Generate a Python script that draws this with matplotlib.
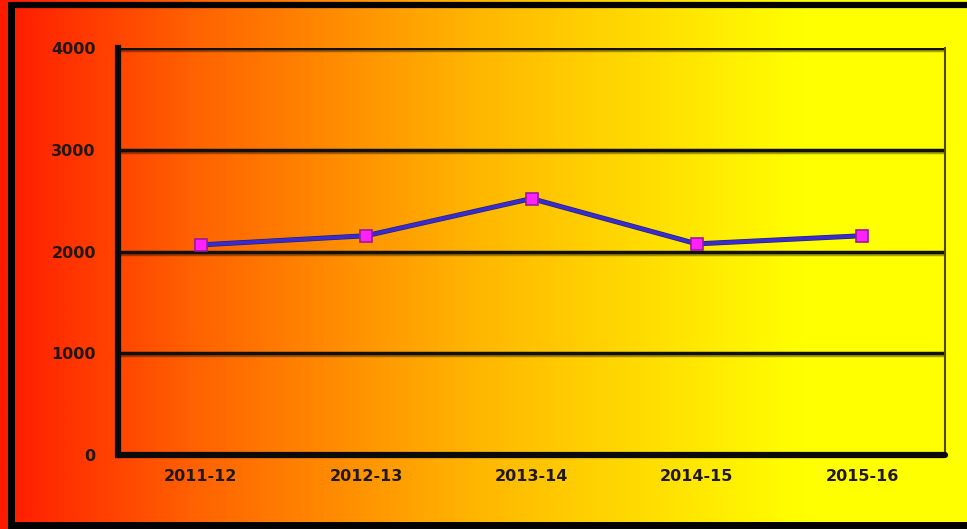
import matplotlib
matplotlib.use("Agg")
import matplotlib.pyplot as plt
import numpy as np
from matplotlib.colors import LinearSegmentedColormap
import matplotlib.patheffects as pe

categories = ["2011-12", "2012-13", "2013-14", "2014-15", "2015-16"]
values = [2065, 2155, 2520, 2075, 2155]
yticks = [0, 1000, 2000, 3000, 4000]

W, H = 967, 529
fig = plt.figure(figsize=(W / 100, H / 100), dpi=100)

# background gradient
bg = fig.add_axes([0, 0, 1, 1], zorder=-2)
cmap = LinearSegmentedColormap.from_list(
    "ry", [(0.0, "#ff1a00"), (0.2, "#ff6200"), (0.5, "#ffb800"),
           (0.72, "#ffe800"), (0.83, "#ffff00"), (1.0, "#ffff00")])
grad = np.linspace(0, 1, 512).reshape(1, -1)
bg.imshow(grad, aspect="auto", cmap=cmap, extent=[0, 1, 0, 1])
bg.set_xlim(0, 1); bg.set_ylim(0, 1)
bg.axis("off")
# black frame: top, left, bottom (no right edge)
xl, yt, yb = 11 / W, 1 - 5 / H, 4 / H
bg.plot([xl, 1.01], [yt, yt], color="black", lw=4.5, transform=bg.transAxes, clip_on=False, solid_capstyle="butt")
bg.plot([xl, 1.01], [yb, yb], color="black", lw=5, transform=bg.transAxes, clip_on=False, solid_capstyle="butt")
bg.plot([xl, xl], [yb, yt], color="black", lw=5, transform=bg.transAxes, clip_on=False, solid_capstyle="projecting")

left, right, top, bottom = 118, 945, 48, 455
ax = fig.add_axes([left / W, 1 - bottom / H, (right - left) / W, (bottom - top) / H])
ax.set_facecolor("none")
x = np.arange(len(categories))
ax.set_xlim(-0.5, len(categories) - 0.5)
ax.set_ylim(0, 4000)
ax.set_yticks(yticks)
ax.set_yticklabels([str(v) for v in yticks])
ax.set_xticks(x)
ax.set_xticklabels(categories)
for t in ax.get_xticklabels() + ax.get_yticklabels():
    t.set_fontweight("bold")
    t.set_fontsize(11.5)
    t.set_color("#221812")
    t.set_family("DejaVu Sans")
ax.tick_params(axis="both", length=0)
ax.tick_params(axis="y", pad=16)
ax.tick_params(axis="x", pad=10)

shadow = [pe.SimpleLineShadow(offset=(1.5, -1.5), shadow_color="black", alpha=0.35), pe.Normal()]
for v in yticks[1:]:
    ax.axhline(v, color="#111111", lw=2.5, zorder=1, path_effects=shadow)

ax.spines["top"].set_visible(False)
ax.spines["left"].set_linewidth(4.5)
ax.spines["bottom"].set_linewidth(4.5)
ax.spines["left"].set_color("#0a0a0a")
ax.spines["bottom"].set_color("#0a0a0a")
ax.spines["right"].set_linewidth(1.5)
ax.spines["right"].set_color("#4a4a10")
ax.spines["bottom"].set_capstyle("round")

ax.plot(x, values, color="#3a2ccc", lw=2.6, zorder=3,
        path_effects=[pe.Stroke(linewidth=3.6, foreground="#20207a"), pe.Normal()])
ax.plot(x, values, linestyle="none", marker="s", markersize=8,
        markerfacecolor="#ff22ff", markeredgecolor="#9a1a9a", markeredgewidth=1.2, zorder=4)

fig.savefig("out.png", dpi=100)
